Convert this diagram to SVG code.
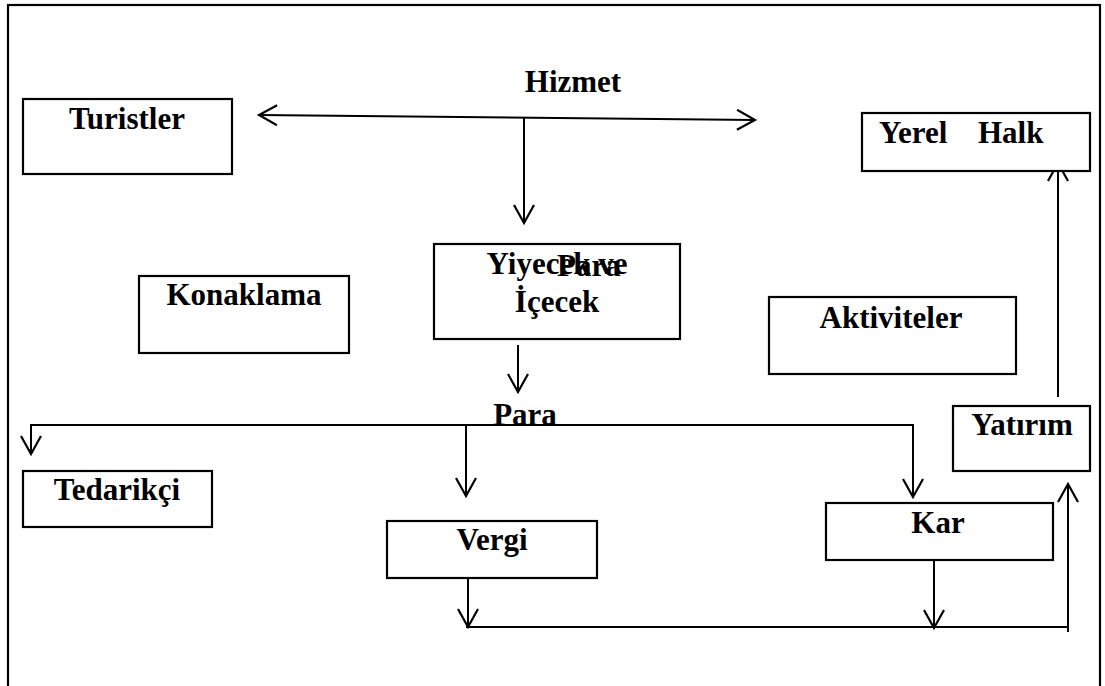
<svg xmlns="http://www.w3.org/2000/svg" width="1105" height="686" viewBox="0 0 1105 686">
<style>
.box{fill:#fff;stroke:#000;stroke-width:2.2}
.lbl{font-family:"Liberation Serif","Times New Roman",serif;font-weight:bold;font-size:31px;fill:#000}
.c{text-anchor:middle}
.ln{fill:none;stroke:#000;stroke-width:2}
</style>
<defs>
<marker id="ah" markerUnits="userSpaceOnUse" markerWidth="22" markerHeight="24" refX="19" refY="11" orient="auto-start-reverse">
<path d="M1,1 L19,11 L1,21" fill="none" stroke="#000" stroke-width="2.2"/>
</marker>
</defs>
<rect x="8" y="5" width="1092" height="700" fill="#fff" stroke="#000" stroke-width="2.2"/>
<g id="connectors">
<line class="ln" x1="259" y1="115" x2="755" y2="120" marker-start="url(#ah)" marker-end="url(#ah)"/>
<line class="ln" x1="524" y1="118" x2="524" y2="223" marker-end="url(#ah)"/>
<line class="ln" x1="518" y1="345" x2="518" y2="392" marker-end="url(#ah)"/>
<polyline class="ln" points="31,454 31,425 913,425 913,497" marker-start="url(#ah)" marker-end="url(#ah)"/>
<line class="ln" x1="466" y1="425" x2="466" y2="496" marker-end="url(#ah)"/>
<line class="ln" x1="468" y1="578" x2="468" y2="627" marker-end="url(#ah)"/>
<line class="ln" x1="934" y1="560" x2="934" y2="628" marker-end="url(#ah)"/>
<polyline class="ln" points="466,627 1068,627"/>
<line class="ln" x1="1068" y1="632" x2="1068" y2="484" marker-end="url(#ah)"/>
<line class="ln" x1="1058" y1="397" x2="1058" y2="163" marker-end="url(#ah)"/>
</g>
<g id="hizmet"><text class="lbl c" x="573" y="92">Hizmet</text></g>
<g id="turistler"><rect class="box" x="23" y="99" width="209" height="75"/><text class="lbl c" x="127" y="129">Turistler</text></g>
<g id="yerel-halk"><rect class="box" x="862" y="113" width="228" height="58"/><text class="lbl" x="879" y="143" xml:space="preserve">Yerel   <tspan x="978">Halk</tspan></text></g>
<g id="yiyecek"><rect class="box" x="434" y="244" width="246" height="95"/><text class="lbl c" x="557" y="274">Yiyecek ve</text><text class="lbl c" x="557" y="312">İçecek</text><text class="lbl" x="557" y="276">Para</text></g>
<g id="konaklama"><rect class="box" x="139" y="276" width="210" height="77"/><text class="lbl c" x="244" y="305">Konaklama</text></g>
<g id="aktiviteler"><rect class="box" x="769" y="297" width="247" height="77"/><text class="lbl c" x="891" y="328">Aktiviteler</text></g>
<g id="para"><text class="lbl c" x="525" y="425">Para</text></g>
<g id="yatirim"><rect class="box" x="953" y="406" width="137" height="65"/><text class="lbl c" x="1022" y="435">Yatırım</text></g>
<g id="tedarikci"><rect class="box" x="23" y="471" width="189" height="56"/><text class="lbl c" x="117" y="500">Tedarikçi</text></g>
<g id="vergi"><rect class="box" x="387" y="521" width="210" height="57"/><text class="lbl c" x="492" y="550">Vergi</text></g>
<g id="kar"><rect class="box" x="826" y="503" width="227" height="57"/><text class="lbl c" x="938" y="533">Kar</text></g>
</svg>
